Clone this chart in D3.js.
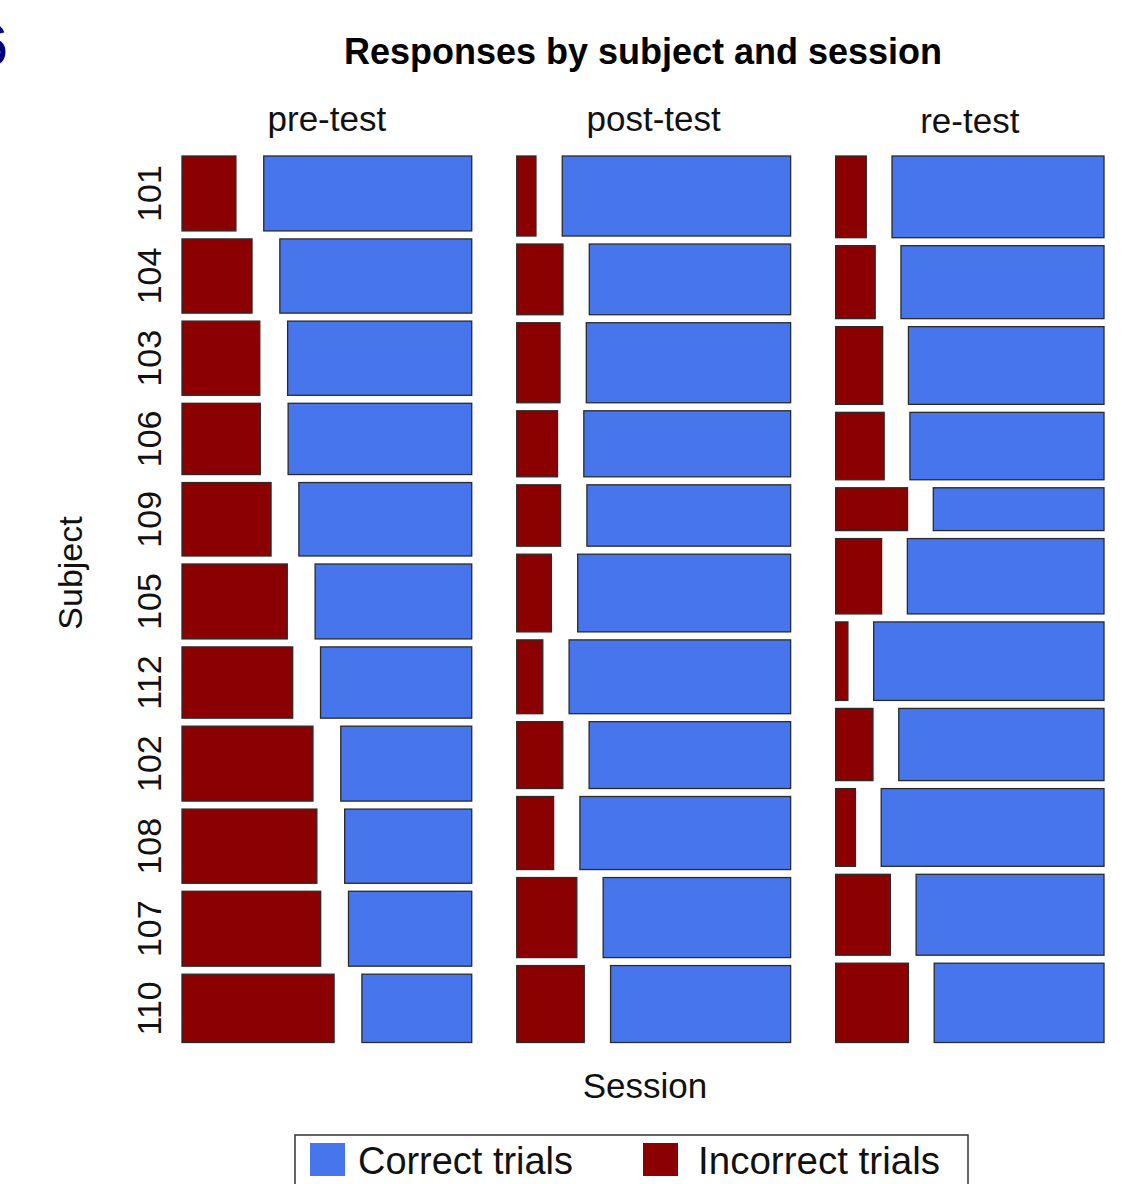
<!DOCTYPE html>
<html>
<head>
<meta charset="utf-8">
<script src="https://cdn.jsdelivr.net/npm/d3@7"></script>
<style>
  html, body { margin: 0; padding: 0; background: #fff; }
  svg { display: block; font-family: "Liberation Sans", Arial, Helvetica, sans-serif; }
</style>
</head>
<body>
<svg id="chart" width="1145" height="1184"></svg>
<script>
// ---- Data (trial counts read from the mosaic) ----
const subjects = ["101","104","103","106","109","105","112","102","108","107","110"];
const sessions = ["pre-test","post-test","re-test"];
const responses = ["Incorrect trials","Correct trials"];

const preIncorrect  = [21,27,30,29,34,41,41,51,52,54,54];
const preCorrect    = [81,74,71,68,66,61,56,51,49,48,39];
const postIncorrect = [8,17,18,14,14,14,10,16,14,25,27];
const postCorrect   = [95,74,85,71,65,86,85,70,80,78,72];
const reIncorrect   = [13,15,19,17,16,18,5,14,8,23,30];
const reCorrect     = [90,77,79,68,38,77,94,77,90,79,70];

const legendLabels = ["Correct trials","Incorrect trials"];

// ---- Styles / layout ----
const COL_CORRECT = "#4775EC";
const COL_INCORRECT = "#8B0000";
const plotLeft = 182, plotRight = 1104, plotTop = 156, plotBottom = 1042.5;
const colGap = 45, rowGap = 8, innerGapFrac = 0.096;

const table = [
  {session: sessions[0], inc: preIncorrect,  cor: preCorrect},
  {session: sessions[1], inc: postIncorrect, cor: postCorrect},
  {session: sessions[2], inc: reIncorrect,   cor: reCorrect}
];
table.forEach(t => {
  t.totals = t.inc.map((v,i) => v + t.cor[i]);
  t.total = d3.sum(t.totals);
});
const grand = d3.sum(table, t => t.total);

const svg = d3.select("#chart");

// session widths via scale
const xSess = d3.scaleLinear().domain([0, grand])
  .range([0, (plotRight - plotLeft) - colGap * (sessions.length - 1)]);
let cum = 0;
table.forEach((t, si) => {
  t.x0 = plotLeft + xSess(cum) + si * colGap;
  t.w = xSess(t.total);
  cum += t.total;
});

const availH = (plotBottom - plotTop) - rowGap * (subjects.length - 1);
const stripY = [131, 131, 133];

const g = svg.append("g");
table.forEach((t, si) => {
  const yScale = d3.scaleLinear().domain([0, t.total]).range([0, availH]);
  const innerGap = t.w * innerGapFrac;
  const xResp = d3.scaleLinear().domain([0, 1]).range([0, t.w - innerGap]);
  let c = 0;
  t.rows = subjects.map((s, i) => {
    const y = plotTop + yScale(c) + i * rowGap;
    const h = yScale(t.totals[i]);
    c += t.totals[i];
    const fInc = t.inc[i] / t.totals[i];
    const wInc = xResp(fInc);
    const wCor = xResp(1 - fInc);
    return {s, y, h, x0: t.x0, wInc, wCor, innerGap};
  });
  const cells = g.selectAll(null).data(t.rows).enter();
  cells.append("rect")
    .attr("x", d => d.x0).attr("y", d => d.y)
    .attr("width", d => d.wInc).attr("height", d => d.h)
    .attr("fill", COL_INCORRECT).attr("stroke", "#2a2a2a").attr("stroke-width", 1.3);
  cells.append("rect")
    .attr("x", d => d.x0 + d.wInc + d.innerGap).attr("y", d => d.y)
    .attr("width", d => d.wCor).attr("height", d => d.h)
    .attr("fill", COL_CORRECT).attr("stroke", "#2a2a2a").attr("stroke-width", 1.3);

  // strip label
  svg.append("text")
    .attr("x", t.x0 + t.w / 2).attr("y", stripY[si])
    .attr("text-anchor", "middle")
    .attr("font-size", 35).attr("fill", "#111")
    .text(t.session);
});

// subject labels (positioned at first session's rows)
table[0].rows.forEach(r => {
  const cy = r.y + r.h / 2;
  svg.append("text")
    .attr("transform", `translate(161,${cy}) rotate(-90)`)
    .attr("text-anchor", "middle")
    .attr("font-size", 34).attr("fill", "#111")
    .text(r.s);
});

// title
svg.append("text")
  .attr("x", 643).attr("y", 64)
  .attr("text-anchor", "middle")
  .attr("font-size", 36).attr("font-weight", "bold").attr("fill", "#000")
  .text("Responses by subject and session");

// axis titles
svg.append("text")
  .attr("transform", "translate(82,573) rotate(-90)")
  .attr("text-anchor", "middle")
  .attr("font-size", 34).attr("fill", "#111")
  .text("Subject");
svg.append("text")
  .attr("x", 645).attr("y", 1098)
  .attr("text-anchor", "middle")
  .attr("font-size", 35).attr("fill", "#111")
  .text("Session");

// stray figure number at top-left (cut off in the reference as well)
svg.append("text")
  .attr("x", 8).attr("y", 65)
  .attr("text-anchor", "end")
  .attr("font-size", 58).attr("fill", "#00007f")
  .text("6");

// legend
const lg = svg.append("g");
lg.append("rect").attr("x", 295).attr("y", 1135).attr("width", 673).attr("height", 70)
  .attr("fill", "#fff").attr("stroke", "#333").attr("stroke-width", 1.5);
const legendColors = [COL_CORRECT, COL_INCORRECT];
const legendX = [310, 643];
const legendTextX = [358, 698];
const legendTL = [215, 242];
legendLabels.forEach((lab, i) => {
  lg.append("rect").attr("x", legendX[i]).attr("y", 1143).attr("width", 35).attr("height", 33)
    .attr("fill", legendColors[i]);
  lg.append("text").attr("x", legendTextX[i]).attr("y", 1174)
    .attr("font-size", 39).attr("fill", "#111")
    .attr("textLength", legendTL[i]).attr("lengthAdjust", "spacingAndGlyphs")
    .text(lab);
});
</script>
</body>
</html>
